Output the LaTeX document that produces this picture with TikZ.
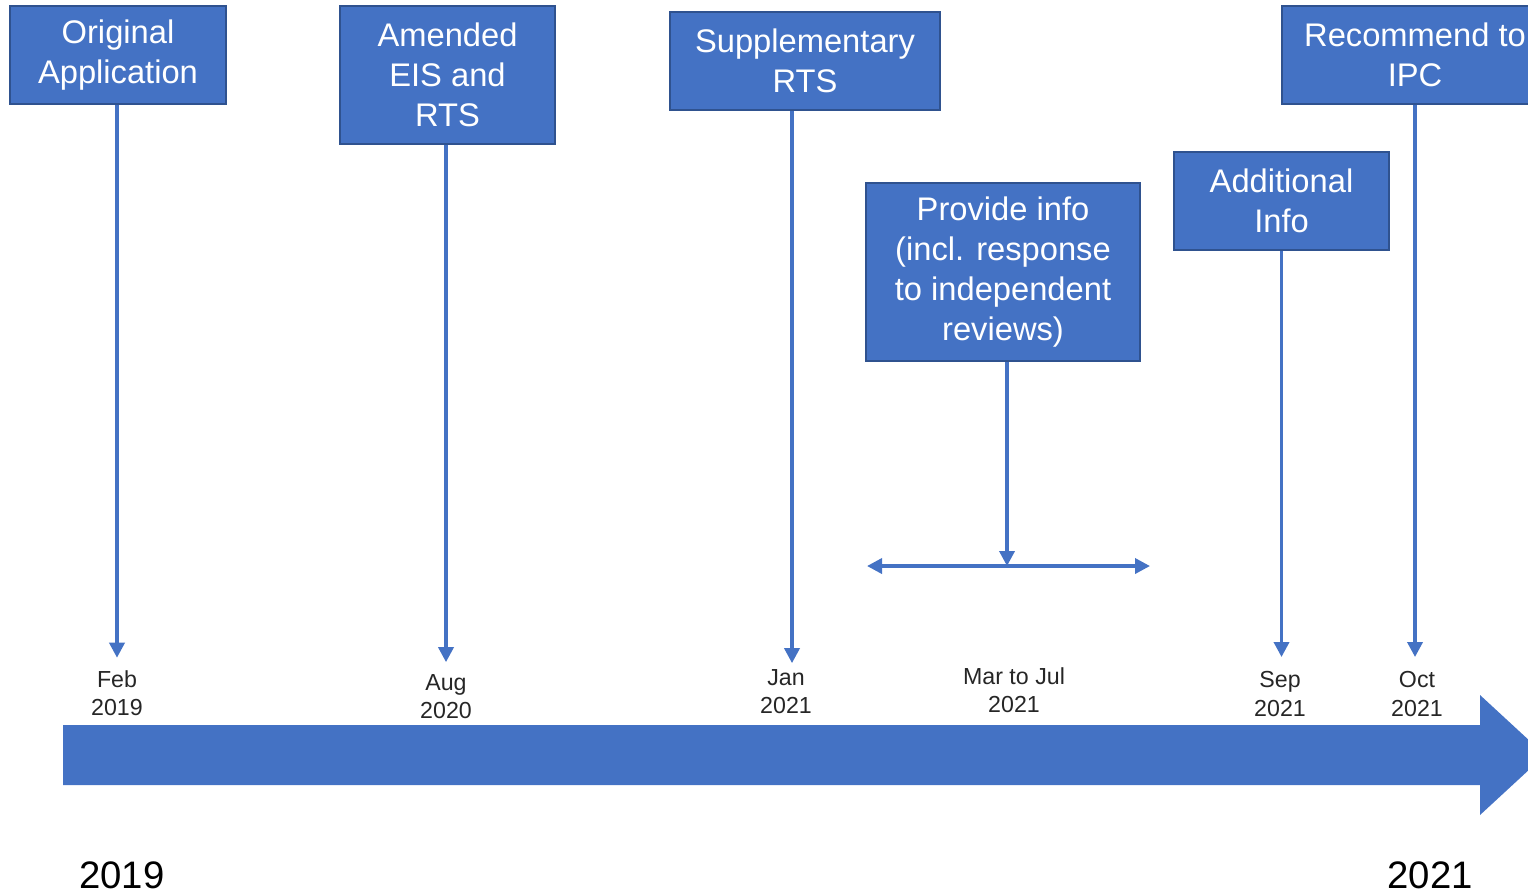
\documentclass[tikz,border=0pt]{standalone}
\usepackage{fontspec}
\setmainfont{Liberation Sans}
\usepackage{tikz}
\usetikzlibrary{arrows.meta, positioning, calc}
\usepackage{xcolor}
\definecolor{boxblue}{RGB}{68,114,196}
\definecolor{boxedge}{RGB}{47,82,143}
\definecolor{datecolor}{RGB}{38,38,38}

\begin{document}
\begin{tikzpicture}[
    box/.style={rectangle, draw=boxedge, fill=boxblue, line width=0.6pt, text=white, align=center, inner sep=0pt, font=\fontsize{9.3}{11.4}\selectfont},
    date/.style={align=center, inner sep=0pt, text=datecolor, font=\fontsize{6.6}{8}\selectfont},
    year/.style={inner sep=0pt, text=black, font=\fontsize{10.9}{13}\selectfont},
    arrow/.style={-{Triangle[length=1.5mm, width=1.5mm]}, draw=boxblue, line width=1pt},
    spanarrow/.style={{Triangle[length=1.5mm, width=1.5mm]}-{Triangle[length=1.5mm, width=1.5mm]}, draw=boxblue, line width=1pt}
]
\useasboundingbox (0,0) rectangle (15.28,-8.94);
\clip (0,0) rectangle (15.28,-8.94);

% milestone boxes
\node[box, minimum width=2.16cm, minimum height=0.98cm] (orig) at (1.18,-0.55) {Original\\Application};
\node[box, minimum width=2.15cm, minimum height=1.38cm] (amend) at (4.475,-0.75) {Amended\\EIS and\\RTS};
\node[box, minimum width=2.70cm, minimum height=0.98cm] (supp) at (8.05,-0.61) {Supplementary\\RTS};
\node[box, minimum width=2.74cm, minimum height=1.78cm] (provide) at (10.03,-2.72) {Provide info\\(incl. response\\to independent\\reviews)};
\node[box, minimum width=2.15cm, minimum height=0.98cm] (addl) at (12.815,-2.01) {Additional\\Info};
\node[box, minimum width=2.66cm, minimum height=0.98cm] (recom) at (14.15,-0.55) {Recommend to\\IPC};

% dates
\node[date] (feb) at (1.17,-6.93) {Feb\\2019};
\node[date] (aug) at (4.46,-6.97) {Aug\\2020};
\node[date] (jan) at (7.86,-6.92) {Jan\\2021};
\node[date] (marjul) at (10.14,-6.90) {Mar to Jul\\2021};
\node[date] (sep) at (12.80,-6.94) {Sep\\2021};
\node[date] (oct) at (14.17,-6.94) {Oct\\2021};

% timeline
\fill[boxblue] (0.63,-7.25) -- (14.80,-7.25) -- (14.80,-6.95) -- (15.45,-7.55)
    -- (14.80,-8.15) -- (14.80,-7.85) -- (0.63,-7.85) -- cycle;
\node[year] (ystart) at (1.22,-8.75) {2019};
\node[year] (yend) at (14.30,-8.75) {2021};

% span of Mar to Jul
\coordinate (spanL) at (8.67,-5.66);
\coordinate (spanR) at (11.50,-5.66);
\draw[spanarrow] (spanL) -- (spanR);

\coordinate (suppout) at ($(supp.south)+(-0.13,0)$);
\coordinate (provout) at ($(provide.south)+(0.04,0)$);

\draw[arrow, shorten >=1.2mm] (orig.south -| feb) -- (feb.north);
\draw[arrow, shorten >=1.2mm] (amend.south -| aug) -- (aug.north);
\draw[arrow, shorten >=0.6mm] (suppout) -- (suppout |- jan.north);
\draw[arrow] (provout) -- (provout |- spanL);
\draw[arrow, shorten >=1.4mm] (addl.south) -- (addl.south |- sep.north);
\draw[arrow, shorten >=1.4mm] (recom.south) -- (recom.south |- oct.north);

\end{tikzpicture}
\end{document}
